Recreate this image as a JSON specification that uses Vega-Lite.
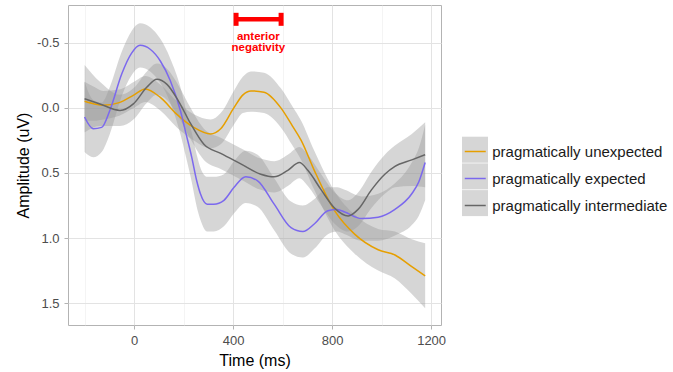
{
  "$schema": "https://vega.github.io/schema/vega-lite/v6.json",
  "width": 373,
  "height": 320,
  "autosize": "none",
  "padding": {"left": 68, "top": 5, "right": 232, "bottom": 47},
  "background": "white",
  "config": {
    "font": "Liberation Sans",
    "view": {"stroke": "#B3B3B3", "strokeWidth": 1},
    "axis": {
      "domain": false,
      "gridColor": "#E6E6E6",
      "tickColor": "#B3B3B3",
      "tickSize": 4,
      "labelFont": "Liberation Sans",
      "labelFontSize": 13,
      "labelColor": "#4D4D4D",
      "titleFont": "Liberation Sans",
      "titleFontSize": 16,
      "titleFontWeight": "normal",
      "titleColor": "#000000",
      "labelPadding": 5,
      "titlePadding": 5,
      "labelFlush": false,
      "labelOverlap": false
    }
  },
  "datasets": {
    "erp": [
      {"cond": "pragmatically unexpected", "time": -200, "amp": -0.05, "lo": -0.2, "hi": 0.1},
      {"cond": "pragmatically unexpected", "time": -160, "amp": -0.03, "lo": -0.16, "hi": 0.1},
      {"cond": "pragmatically unexpected", "time": -125, "amp": -0.02, "lo": -0.13, "hi": 0.09},
      {"cond": "pragmatically unexpected", "time": -60, "amp": -0.04, "lo": -0.14, "hi": 0.06},
      {"cond": "pragmatically unexpected", "time": 0, "amp": -0.1, "lo": -0.2, "hi": 0.0},
      {"cond": "pragmatically unexpected", "time": 45, "amp": -0.145, "lo": -0.245, "hi": -0.045},
      {"cond": "pragmatically unexpected", "time": 106, "amp": -0.08, "lo": -0.18, "hi": 0.02},
      {"cond": "pragmatically unexpected", "time": 173, "amp": 0.05, "lo": -0.05, "hi": 0.15},
      {"cond": "pragmatically unexpected", "time": 241, "amp": 0.15, "lo": 0.05, "hi": 0.25},
      {"cond": "pragmatically unexpected", "time": 309, "amp": 0.2, "lo": 0.09, "hi": 0.31},
      {"cond": "pragmatically unexpected", "time": 350, "amp": 0.16, "lo": 0.04, "hi": 0.28},
      {"cond": "pragmatically unexpected", "time": 403, "amp": 0.0, "lo": -0.13, "hi": 0.13},
      {"cond": "pragmatically unexpected", "time": 440, "amp": -0.1, "lo": -0.24, "hi": 0.04},
      {"cond": "pragmatically unexpected", "time": 472, "amp": -0.13, "lo": -0.28, "hi": 0.03},
      {"cond": "pragmatically unexpected", "time": 525, "amp": -0.12, "lo": -0.27, "hi": 0.04},
      {"cond": "pragmatically unexpected", "time": 593, "amp": 0.0, "lo": -0.15, "hi": 0.15},
      {"cond": "pragmatically unexpected", "time": 640, "amp": 0.14, "lo": -0.01, "hi": 0.29},
      {"cond": "pragmatically unexpected", "time": 675, "amp": 0.25, "lo": 0.1, "hi": 0.4},
      {"cond": "pragmatically unexpected", "time": 728, "amp": 0.48, "lo": 0.33, "hi": 0.63},
      {"cond": "pragmatically unexpected", "time": 810, "amp": 0.79, "lo": 0.64, "hi": 0.94},
      {"cond": "pragmatically unexpected", "time": 891, "amp": 0.97, "lo": 0.82, "hi": 1.12},
      {"cond": "pragmatically unexpected", "time": 986, "amp": 1.09, "lo": 0.93, "hi": 1.25},
      {"cond": "pragmatically unexpected", "time": 1054, "amp": 1.13, "lo": 0.95, "hi": 1.31},
      {"cond": "pragmatically unexpected", "time": 1122, "amp": 1.22, "lo": 1.01, "hi": 1.43},
      {"cond": "pragmatically unexpected", "time": 1176, "amp": 1.29, "lo": 1.04, "hi": 1.54},

      {"cond": "pragmatically expected", "time": -200, "amp": 0.07, "lo": -0.2, "hi": 0.34},
      {"cond": "pragmatically expected", "time": -165, "amp": 0.16, "lo": -0.06, "hi": 0.38},
      {"cond": "pragmatically expected", "time": -131, "amp": 0.15, "lo": -0.04, "hi": 0.34},
      {"cond": "pragmatically expected", "time": -98, "amp": 0.02, "lo": -0.16, "hi": 0.2},
      {"cond": "pragmatically expected", "time": -50, "amp": -0.26, "lo": -0.43, "hi": -0.09},
      {"cond": "pragmatically expected", "time": -10, "amp": -0.42, "lo": -0.59, "hi": -0.25},
      {"cond": "pragmatically expected", "time": 24, "amp": -0.48, "lo": -0.65, "hi": -0.31},
      {"cond": "pragmatically expected", "time": 65, "amp": -0.45, "lo": -0.62, "hi": -0.28},
      {"cond": "pragmatically expected", "time": 106, "amp": -0.36, "lo": -0.53, "hi": -0.19},
      {"cond": "pragmatically expected", "time": 146, "amp": -0.21, "lo": -0.38, "hi": -0.04},
      {"cond": "pragmatically expected", "time": 187, "amp": 0.02, "lo": -0.16, "hi": 0.2},
      {"cond": "pragmatically expected", "time": 210, "amp": 0.2, "lo": 0.02, "hi": 0.38},
      {"cond": "pragmatically expected", "time": 233, "amp": 0.38, "lo": 0.19, "hi": 0.57},
      {"cond": "pragmatically expected", "time": 253, "amp": 0.56, "lo": 0.36, "hi": 0.76},
      {"cond": "pragmatically expected", "time": 268, "amp": 0.66, "lo": 0.46, "hi": 0.86},
      {"cond": "pragmatically expected", "time": 295, "amp": 0.74, "lo": 0.53, "hi": 0.95},
      {"cond": "pragmatically expected", "time": 322, "amp": 0.74, "lo": 0.53, "hi": 0.95},
      {"cond": "pragmatically expected", "time": 363, "amp": 0.71, "lo": 0.51, "hi": 0.91},
      {"cond": "pragmatically expected", "time": 404, "amp": 0.61, "lo": 0.41, "hi": 0.81},
      {"cond": "pragmatically expected", "time": 451, "amp": 0.53, "lo": 0.33, "hi": 0.73},
      {"cond": "pragmatically expected", "time": 499, "amp": 0.56, "lo": 0.36, "hi": 0.76},
      {"cond": "pragmatically expected", "time": 566, "amp": 0.74, "lo": 0.54, "hi": 0.94},
      {"cond": "pragmatically expected", "time": 634, "amp": 0.92, "lo": 0.72, "hi": 1.12},
      {"cond": "pragmatically expected", "time": 682, "amp": 0.95, "lo": 0.75, "hi": 1.15},
      {"cond": "pragmatically expected", "time": 729, "amp": 0.89, "lo": 0.7, "hi": 1.08},
      {"cond": "pragmatically expected", "time": 783, "amp": 0.79, "lo": 0.61, "hi": 0.97},
      {"cond": "pragmatically expected", "time": 820, "amp": 0.78, "lo": 0.61, "hi": 0.95},
      {"cond": "pragmatically expected", "time": 851, "amp": 0.8, "lo": 0.63, "hi": 0.97},
      {"cond": "pragmatically expected", "time": 919, "amp": 0.85, "lo": 0.68, "hi": 1.02},
      {"cond": "pragmatically expected", "time": 986, "amp": 0.84, "lo": 0.66, "hi": 1.02},
      {"cond": "pragmatically expected", "time": 1054, "amp": 0.78, "lo": 0.58, "hi": 0.98},
      {"cond": "pragmatically expected", "time": 1122, "amp": 0.66, "lo": 0.42, "hi": 0.9},
      {"cond": "pragmatically expected", "time": 1150, "amp": 0.57, "lo": 0.31, "hi": 0.83},
      {"cond": "pragmatically expected", "time": 1176, "amp": 0.42, "lo": 0.13, "hi": 0.71},

      {"cond": "pragmatically intermediate", "time": -200, "amp": -0.07, "lo": -0.33, "hi": 0.19},
      {"cond": "pragmatically intermediate", "time": -138, "amp": -0.03, "lo": -0.2, "hi": 0.14},
      {"cond": "pragmatically intermediate", "time": -57, "amp": 0.02, "lo": -0.1, "hi": 0.14},
      {"cond": "pragmatically intermediate", "time": -3, "amp": -0.03, "lo": -0.15, "hi": 0.09},
      {"cond": "pragmatically intermediate", "time": 52, "amp": -0.16, "lo": -0.28, "hi": -0.04},
      {"cond": "pragmatically intermediate", "time": 92, "amp": -0.22, "lo": -0.34, "hi": -0.1},
      {"cond": "pragmatically intermediate", "time": 133, "amp": -0.18, "lo": -0.3, "hi": -0.06},
      {"cond": "pragmatically intermediate", "time": 180, "amp": -0.05, "lo": -0.17, "hi": 0.07},
      {"cond": "pragmatically intermediate", "time": 228, "amp": 0.12, "lo": 0.0, "hi": 0.24},
      {"cond": "pragmatically intermediate", "time": 282, "amp": 0.28, "lo": 0.16, "hi": 0.4},
      {"cond": "pragmatically intermediate", "time": 350, "amp": 0.35, "lo": 0.23, "hi": 0.47},
      {"cond": "pragmatically intermediate", "time": 431, "amp": 0.43, "lo": 0.31, "hi": 0.55},
      {"cond": "pragmatically intermediate", "time": 512, "amp": 0.51, "lo": 0.39, "hi": 0.63},
      {"cond": "pragmatically intermediate", "time": 566, "amp": 0.53, "lo": 0.41, "hi": 0.65},
      {"cond": "pragmatically intermediate", "time": 621, "amp": 0.48, "lo": 0.36, "hi": 0.6},
      {"cond": "pragmatically intermediate", "time": 668, "amp": 0.42, "lo": 0.3, "hi": 0.54},
      {"cond": "pragmatically intermediate", "time": 702, "amp": 0.48, "lo": 0.36, "hi": 0.6},
      {"cond": "pragmatically intermediate", "time": 756, "amp": 0.63, "lo": 0.51, "hi": 0.75},
      {"cond": "pragmatically intermediate", "time": 810, "amp": 0.77, "lo": 0.65, "hi": 0.89},
      {"cond": "pragmatically intermediate", "time": 865, "amp": 0.83, "lo": 0.71, "hi": 0.95},
      {"cond": "pragmatically intermediate", "time": 905, "amp": 0.78, "lo": 0.65, "hi": 0.91},
      {"cond": "pragmatically intermediate", "time": 959, "amp": 0.63, "lo": 0.49, "hi": 0.77},
      {"cond": "pragmatically intermediate", "time": 1013, "amp": 0.51, "lo": 0.36, "hi": 0.66},
      {"cond": "pragmatically intermediate", "time": 1054, "amp": 0.45, "lo": 0.29, "hi": 0.61},
      {"cond": "pragmatically intermediate", "time": 1122, "amp": 0.4, "lo": 0.2, "hi": 0.6},
      {"cond": "pragmatically intermediate", "time": 1176, "amp": 0.36, "lo": 0.11, "hi": 0.61}
    ],
    "bar": [{"start": 412, "end": 594, "amp": -0.68}],
    "caps": [
      {"time": 412, "lo": -0.73, "hi": -0.63},
      {"time": 594, "lo": -0.73, "hi": -0.63}
    ],
    "note": [
      {"time": 502, "amp": -0.548, "text": "anterior"},
      {"time": 502, "amp": -0.462, "text": "negativity"}
    ]
  },
  "layer": [
    {
      "data": {"name": "erp"},
      "mark": {"type": "area", "interpolate": "monotone", "opacity": 0.4},
      "encoding": {
        "x": {
          "field": "time", "type": "quantitative",
          "scale": {"domain": [-267, 1240], "nice": false, "zero": false},
          "axis": {
            "title": "Time (ms)",
            "values": [-200, 0, 200, 400, 600, 800, 1000, 1200],
            "format": "d",
            "labelExpr": "datum.value % 400 === 0 ? datum.label : ''",
            "gridWidth": {"condition": {"test": "datum.value % 400 !== 0", "value": 0.6}, "value": 1},
            "gridColor": {"condition": {"test": "datum.value % 400 !== 0", "value": "#EDEDED"}, "value": "#E3E3E3"},
            "tickOpacity": {"condition": {"test": "datum.value % 400 !== 0", "value": 0}, "value": 1}
          }
        },
        "y": {
          "field": "lo", "type": "quantitative",
          "scale": {"domain": [-0.79, 1.668], "nice": false, "zero": false, "reverse": true},
          "axis": {
            "title": "Amplitude (uV)",
            "values": [-0.5, -0.25, 0, 0.25, 0.5, 0.75, 1, 1.25, 1.5],
            "format": ".1f",
            "labelExpr": "abs(datum.value * 2 - round(datum.value * 2)) < 0.001 ? replace(datum.label, '\u2212', '-') : ''",
            "gridWidth": {"condition": {"test": "abs(datum.value * 2 - round(datum.value * 2)) > 0.001", "value": 0.6}, "value": 1},
            "gridColor": {"condition": {"test": "abs(datum.value * 2 - round(datum.value * 2)) > 0.001", "value": "#EDEDED"}, "value": "#E3E3E3"},
            "tickOpacity": {"condition": {"test": "abs(datum.value * 2 - round(datum.value * 2)) > 0.001", "value": 0}, "value": 1}
          }
        },
        "y2": {"field": "hi"},
        "fill": {
          "field": "cond", "type": "nominal",
          "scale": {
            "domain": ["pragmatically unexpected", "pragmatically expected", "pragmatically intermediate"],
            "range": ["#999999", "#999999", "#999999"]
          },
          "legend": {
            "orient": "none", "legendX": 394, "legendY": 131.7, "title": null,
            "symbolType": "square", "symbolSize": 676, "symbolOpacity": 0.4,
            "symbolStrokeWidth": 0, "labelExpr": "''", "labelFontSize": 15,
            "rowPadding": 0.7, "padding": 0
          }
        }
      }
    },
    {
      "data": {"name": "erp"},
      "mark": {"type": "line", "interpolate": "monotone", "strokeWidth": 1.5},
      "encoding": {
        "x": {"field": "time", "type": "quantitative", "scale": {"domain": [-267, 1240], "nice": false, "zero": false}},
        "y": {"field": "amp", "type": "quantitative", "scale": {"domain": [-0.79, 1.668], "nice": false, "zero": false, "reverse": true}},
        "stroke": {
          "field": "cond", "type": "nominal",
          "sort": ["pragmatically unexpected", "pragmatically expected", "pragmatically intermediate"],
          "scale": {"range": ["#E69F00", "#7B68EE", "#666666"]},
          "legend": {
            "orient": "none", "legendX": 395.75, "legendY": 135, "title": null,
            "symbolType": "stroke", "symbolSize": 441, "symbolStrokeWidth": 1.5,
            "labelFontSize": 15, "labelColor": "#1A1A1A", "labelOffset": 5.5, "labelLimit": 400,
            "rowPadding": 7, "padding": 0
          }
        }
      }
    },
    {
      "data": {"name": "bar"},
      "mark": {"type": "rule", "color": "#FF0000", "strokeWidth": 4.5},
      "encoding": {
        "x": {"field": "start", "type": "quantitative", "scale": {"domain": [-267, 1240], "nice": false, "zero": false}},
        "x2": {"field": "end"},
        "y": {"field": "amp", "type": "quantitative", "scale": {"domain": [-0.79, 1.668], "nice": false, "zero": false, "reverse": true}}
      }
    },
    {
      "data": {"name": "caps"},
      "mark": {"type": "rule", "color": "#FF0000", "strokeWidth": 5},
      "encoding": {
        "x": {"field": "time", "type": "quantitative", "scale": {"domain": [-267, 1240], "nice": false, "zero": false}},
        "y": {"field": "lo", "type": "quantitative", "scale": {"domain": [-0.79, 1.668], "nice": false, "zero": false, "reverse": true}},
        "y2": {"field": "hi"}
      }
    },
    {
      "data": {"name": "note"},
      "mark": {"type": "text", "color": "#FF0000", "font": "Liberation Sans", "fontSize": 11.5, "fontWeight": "bold", "align": "center", "baseline": "middle"},
      "encoding": {
        "x": {"field": "time", "type": "quantitative", "scale": {"domain": [-267, 1240], "nice": false, "zero": false}},
        "y": {"field": "amp", "type": "quantitative", "scale": {"domain": [-0.79, 1.668], "nice": false, "zero": false, "reverse": true}},
        "text": {"field": "text", "type": "nominal"}
      }
    }
  ]
}
